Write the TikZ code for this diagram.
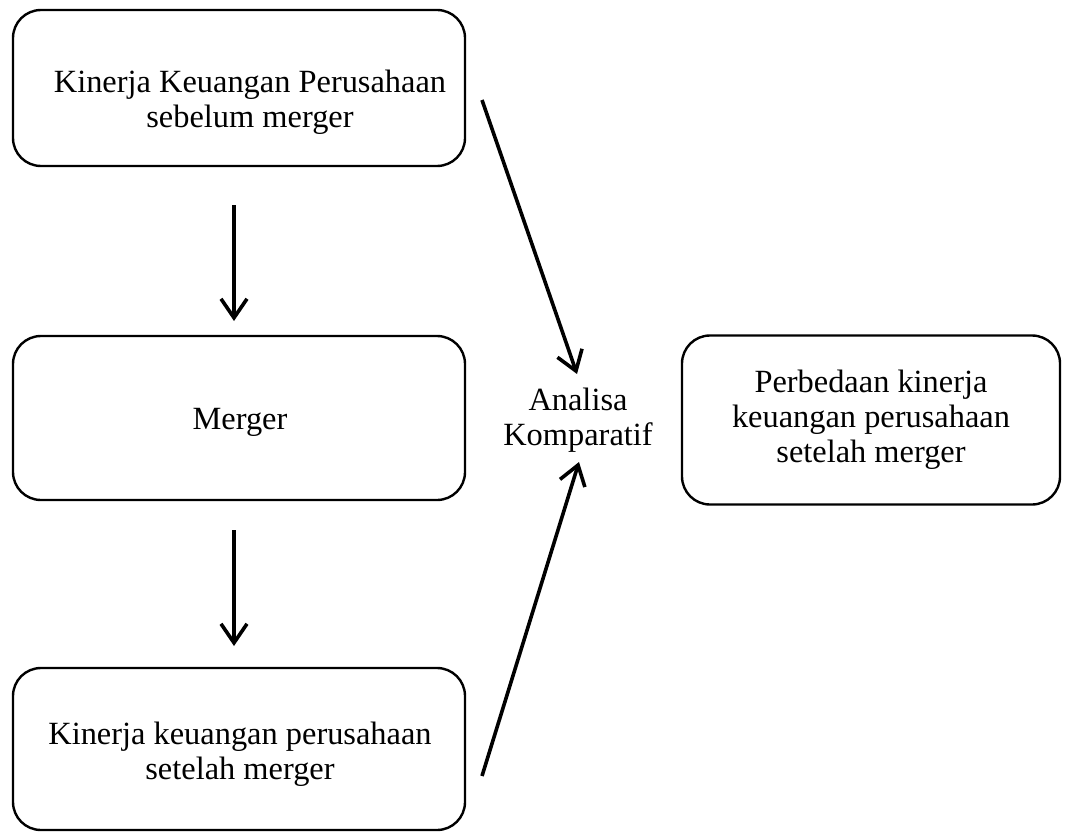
\documentclass[tikz,border=0pt]{standalone}
\usepackage{fontspec}
\setmainfont{Liberation Serif}
\usetikzlibrary{arrows.meta}
\tikzset{
  box/.style={draw, line width=2.4pt, rounded corners=28pt, inner sep=0pt},
  lbl/.style={align=center, font=\fontsize{32.4}{35}\selectfont, inner sep=0pt},
  arr/.style={line width=3.6pt, -{Straight Barb[length=19pt,width=26pt]}}
}
\begin{document}
\begin{tikzpicture}[x=1pt,y=-1pt]
\useasboundingbox (0,0) rectangle (1065,832);
\node[box, minimum width=452pt, minimum height=156pt] (b1) at (239,88) {};
\node[box, minimum width=452pt, minimum height=164pt] (b2) at (239,418) {};
\node[box, minimum width=452pt, minimum height=162pt] (b3) at (239,749) {};
\node[box, minimum width=378pt, minimum height=169pt] (b4) at (871,420) {};
\node[lbl] (t1) at (250,102) {Kinerja Keuangan Perusahaan\\sebelum merger};
\node[lbl] (t2) at (240,422) {Merger};
\node[lbl] (t3) at (240,754) {Kinerja keuangan perusahaan\\setelah merger};
\node[lbl] (t4) at (871,420) {Perbedaan kinerja\\keuangan perusahaan\\setelah merger};
\node[lbl] (ak) at (578,420) {Analisa\\Komparatif};
\coordinate (a1s) at (234,205);
\coordinate (a1e) at (234,321);
\coordinate (a2s) at (234,530);
\coordinate (a2e) at (234,646);
\coordinate (d1s) at (482,100);
\coordinate (d1e) at (577,374);
\coordinate (d2s) at (482,776);
\coordinate (d2e) at (579,462);
\draw[arr] (a1s) -- (a1e);
\draw[arr] (a2s) -- (a2e);
\draw[arr] (d1s) -- (d1e);
\draw[arr] (d2s) -- (d2e);
\end{tikzpicture}
\end{document}
